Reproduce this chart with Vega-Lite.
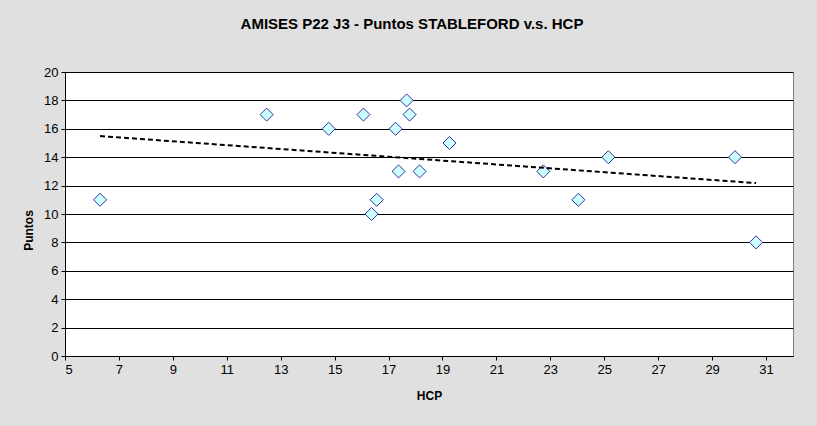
{
  "$schema": "https://vega.github.io/schema/vega-lite/v6.json",
  "width": 728,
  "height": 284,
  "autosize": "none",
  "padding": {"left": 65, "top": 72, "right": 24, "bottom": 70},
  "background": "#e0e0e0",
  "title": {
    "text": "AMISES P22 J3 - Puntos STABLEFORD v.s. HCP",
    "font": "Liberation Sans",
    "fontSize": 15,
    "fontWeight": "bold",
    "color": "#000000",
    "anchor": "middle",
    "dx": -17,
    "offset": 34
  },
  "config": {
    "view": {"stroke": "#808080", "fill": "#ffffff", "strokeWidth": 1},
    "axis": {
      "labelFont": "Liberation Sans",
      "labelFontSize": 13,
      "labelColor": "#000000",
      "labelOverlap": false,
      "titleFont": "Liberation Sans",
      "titleFontSize": 12,
      "titleFontWeight": "bold",
      "titleColor": "#000000",
      "domainColor": "#000000",
      "tickColor": "#000000",
      "tickSize": 4,
      "gridColor": "#000000",
      "gridOpacity": 1
    }
  },
  "data": {
    "values": [
      {"hcp": 6.3, "puntos": 11},
      {"hcp": 12.48, "puntos": 17},
      {"hcp": 14.78, "puntos": 16},
      {"hcp": 16.07, "puntos": 17},
      {"hcp": 17.26, "puntos": 16},
      {"hcp": 17.67, "puntos": 18},
      {"hcp": 17.78, "puntos": 17},
      {"hcp": 17.37, "puntos": 13},
      {"hcp": 18.15, "puntos": 13},
      {"hcp": 16.56, "puntos": 11},
      {"hcp": 16.37, "puntos": 10},
      {"hcp": 19.26, "puntos": 15},
      {"hcp": 22.74, "puntos": 13},
      {"hcp": 24.04, "puntos": 11},
      {"hcp": 25.15, "puntos": 14},
      {"hcp": 29.85, "puntos": 14},
      {"hcp": 30.63, "puntos": 8}
    ]
  },
  "encoding": {
    "x": {
      "field": "hcp", "type": "quantitative",
      "scale": {"domain": [5, 32], "nice": false, "zero": false},
      "axis": {"title": "HCP", "values": [5,7,9,11,13,15,17,19,21,23,25,27,29,31], "grid": false, "labelPadding": 3, "titlePadding": 14}
    },
    "y": {
      "field": "puntos", "type": "quantitative",
      "scale": {"domain": [0, 20], "nice": false},
      "axis": {"title": "Puntos", "values": [0,2,4,6,8,10,12,14,16,18,20], "grid": true, "labelPadding": 3, "titlePadding": 8, "titleY": 158}
    }
  },
  "layer": [
    {
      "mark": {"type": "point", "shape": "diamond", "filled": true, "fill": "#ccffff", "stroke": "#333399", "strokeWidth": 1, "size": 170, "opacity": 1}
    },
    {
      "transform": [{"regression": "puntos", "on": "hcp"}],
      "mark": {"type": "line", "color": "#000000", "strokeWidth": 2, "strokeDash": [5, 3]}
    }
  ]
}
